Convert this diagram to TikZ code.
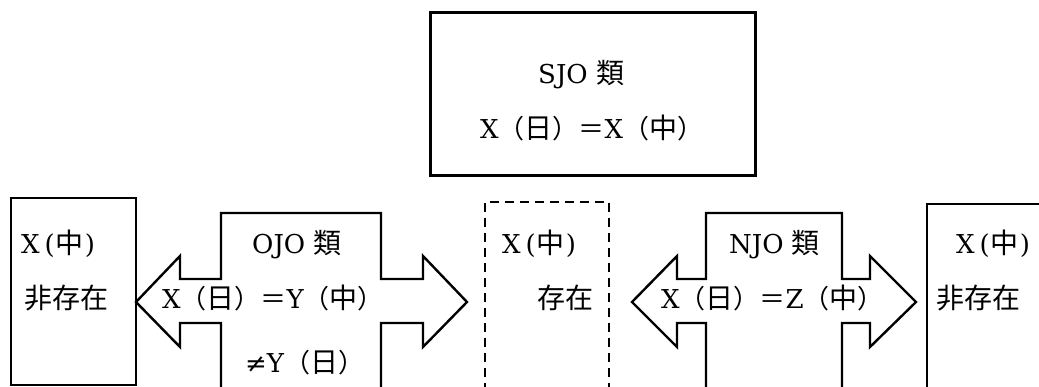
\documentclass[tikz,border=0pt]{standalone}
\usepackage{fontspec}
\setmainfont{DejaVu Serif}
\newfontfamily\cjk{Noto Sans CJK JP}
\newcommand\cj[1]{{\cjk\fontsize{28}{30}\selectfont #1}}
\newcommand\cjq[1]{{\cjk #1}}
\begin{document}
\begin{tikzpicture}[x=1pt,y=-1pt,
  outl/.style={line width=2.4pt,line join=miter},
  lbl/.style={anchor=base west,inner sep=0pt,font=\fontsize{26}{30}\selectfont}]
\useasboundingbox (0,0) rectangle (1039,387);
\clip (0,0) rectangle (1039,387);
% SJO box
\draw[line width=3pt] (430,13) rectangle (755,176);
% left box
\draw[outl] (11,198) rectangle (136,385);
% OJO double arrow
\draw[outl] (221,392) -- (221,323) -- (180,323) -- (180,347) -- (136,302) -- (180,256) -- (180,279) -- (221,279) -- (221,213)
  -- (381,213) -- (381,279) -- (423,279) -- (423,256) -- (467,302) -- (423,347) -- (423,323) -- (381,323) -- (381,392);
% dashed box
\draw[outl,dash pattern=on 9pt off 6pt] (485,392) -- (485,202) -- (609,202) -- (609,392);
% NJO double arrow
\draw[outl] (706,392) -- (706,323) -- (677,323) -- (677,347) -- (632,302) -- (677,256) -- (677,279) -- (706,279) -- (706,213)
  -- (842,213) -- (842,279) -- (870,279) -- (870,256) -- (916,302) -- (870,347) -- (870,323) -- (842,323) -- (842,392);
% right box
\draw[outl] (927,392) -- (927,204) -- (1045,204);
% texts
\node[lbl] (sjo) at (538,84) {SJO \cj{類}};
\node[lbl] (sjoeq) at (480,139) {X\cjq{（}\cj{日}\cjq{）＝}X\cjq{（}\cj{中}\cjq{）}};
\node[lbl] (l1) at (21,254) {X\kern5pt(\kern1pt\cj{中}\kern1pt)};
\node[lbl] (l2) at (24,309) {\cj{非存在}};
\node[lbl] (ojo) at (252,254) {OJO \cj{類}};
\node[lbl] (ojoeq) at (162,309) {X\cjq{（}\cj{日}\cjq{）＝}Y\cjq{（}\cj{中}\cjq{）}};
\node[lbl] (ojone) at (245,372) {≠Y\cjq{（}\cj{日}\cjq{）}};
\node[lbl] (m1) at (502,254) {X\kern5pt(\kern1pt\cj{中}\kern1pt)};
\node[lbl] (m2) at (537,309) {\cj{存在}};
\node[lbl] (njo) at (729,254) {NJO \cj{類}};
\node[lbl] (njoeq) at (661,309) {X\cjq{（}\cj{日}\cjq{）＝}Z\cjq{（}\cj{中}\cjq{）}};
\node[lbl] (r1) at (956,254) {X\kern5pt(\kern1pt\cj{中}\kern1pt)};
\node[lbl] (r2) at (936,309) {\cj{非存在}};
\end{tikzpicture}
\end{document}
